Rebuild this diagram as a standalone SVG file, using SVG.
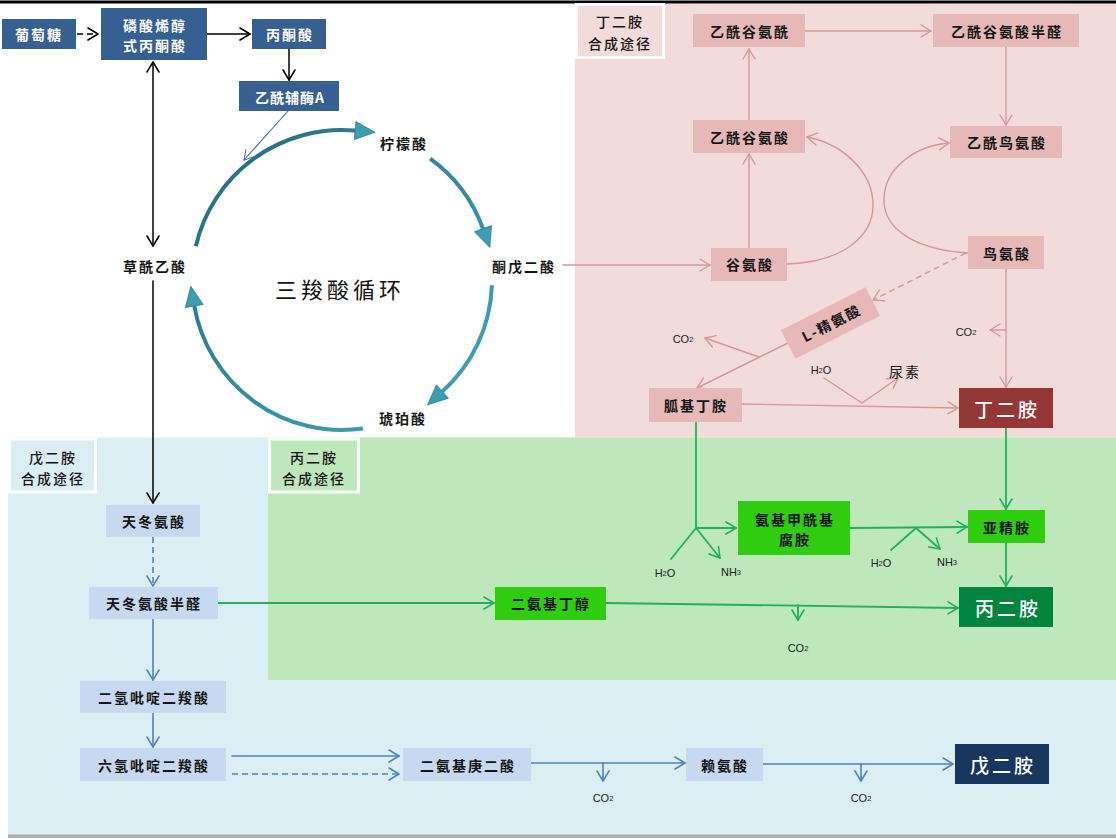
<svg xmlns="http://www.w3.org/2000/svg" width="1116" height="839" viewBox="0 0 1116 839">
  <defs>
    <style>
      .cn { font-family: "Noto Sans CJK SC", "Noto Sans", sans-serif; font-size: 14px; font-weight: 700; text-anchor: middle; dominant-baseline: central; letter-spacing: 2px; fill: #141414; }
      .wt { fill: #ffffff; }
      .big { font-size: 19px; font-weight: 500; letter-spacing: 3px; }
      .reg { font-weight: 500; }
      .chem { font-family: "Liberation Sans", Arial, sans-serif; font-size: 11px; text-anchor: middle; dominant-baseline: central; fill: #1a1a1a; }
      .sub { font-size: 7.5px; }
      .line { fill: none; stroke-linecap: round; stroke-linejoin: round; }
      .bk { stroke: #000000; stroke-width: 1.5; }
      .pk { stroke: #D99694; stroke-width: 1.4; }
      .gr { stroke: #1FB25A; stroke-width: 1.8; }
      .bl { stroke: #4F81BD; stroke-width: 1.6; }
      .nv { stroke: #4A6DB0; stroke-width: 1.1; }
      .dash { stroke-dasharray: 6 4; stroke-linecap: butt; }
      .n-dark { fill: #376092; }
      .n-pink { fill: #E6B9B8; }
      .n-green { fill: #30CC10; }
      .n-blue { fill: #C6D9F0; }
      .tab { stroke: #ffffff; stroke-width: 3; }
      .arc { fill: none; stroke: url(#tcaStroke); stroke-width: 4; }
      .tri { fill: #3C9DB2; stroke: #2C7C8C; stroke-width: 0.8; }
    </style>
    <linearGradient id="tcaStroke" gradientUnits="userSpaceOnUse" x1="200" y1="130" x2="480" y2="430">
      <stop offset="0" stop-color="#236B7A"/>
      <stop offset="1" stop-color="#45A6BC"/>
    </linearGradient>
    <marker id="ah-bk" viewBox="0 -7 12 14" refX="11" refY="0" markerWidth="12" markerHeight="14" markerUnits="userSpaceOnUse" orient="auto-start-reverse">
      <path d="M1,-6 L11,0 L1,6" fill="none" stroke="#000000" stroke-width="1.5" stroke-linecap="round" stroke-linejoin="round"/>
    </marker>
    <marker id="ah-pk" viewBox="0 -7 12 14" refX="11" refY="0" markerWidth="12" markerHeight="14" markerUnits="userSpaceOnUse" orient="auto">
      <path d="M1,-6 L11,0 L1,6" fill="none" stroke="#D99694" stroke-width="1.4" stroke-linecap="round" stroke-linejoin="round"/>
    </marker>
    <marker id="ah-gr" viewBox="0 -7 12 14" refX="11" refY="0" markerWidth="12" markerHeight="14" markerUnits="userSpaceOnUse" orient="auto">
      <path d="M1,-6 L11,0 L1,6" fill="none" stroke="#1FB25A" stroke-width="1.6" stroke-linecap="round" stroke-linejoin="round"/>
    </marker>
    <marker id="ah-bl" viewBox="0 -7 12 14" refX="11" refY="0" markerWidth="12" markerHeight="14" markerUnits="userSpaceOnUse" orient="auto">
      <path d="M1,-6 L11,0 L1,6" fill="none" stroke="#4F81BD" stroke-width="1.5" stroke-linecap="round" stroke-linejoin="round"/>
    </marker>
    <marker id="ah-nv" viewBox="0 -7 12 14" refX="11" refY="0" markerWidth="11" markerHeight="13" markerUnits="userSpaceOnUse" orient="auto">
      <path d="M1,-6 L11,0 L1,6" fill="none" stroke="#4A6DB0" stroke-width="1.1" stroke-linecap="round" stroke-linejoin="round"/>
    </marker>
  </defs>

  <!-- page -->
  <rect x="0" y="0" width="1116" height="839" fill="#ffffff"/>
  <rect x="0" y="0.5" width="1116" height="3" fill="#000000"/>

  <!-- pathway panels -->
  <g id="panels">
    <rect x="8" y="834" width="1108" height="4" fill="#ADADAD"/>
    <rect x="575" y="4" width="541" height="433.5" fill="#F2DCDB"/>
    <rect x="8" y="437.5" width="1108" height="397" fill="#DBEEF4"/>
    <rect x="268" y="437.5" width="848" height="242.5" fill="#BEE7BC"/>
  </g>

  <g id="tab-putrescine">
    <rect class="tab" x="576.5" y="4.5" width="87" height="53" fill="#F2DCDB"/>
    <text class="cn reg" x="620" y="21">丁二胺</text>
    <text class="cn reg" x="620" y="43">合成途径</text>
  </g>
  <g id="tab-cadaverine">
    <rect class="tab" x="9.5" y="439" width="86" height="53" fill="#DBEEF4"/>
    <text class="cn reg" x="53" y="457">戊二胺</text>
    <text class="cn reg" x="53" y="478">合成途径</text>
  </g>
  <g id="tab-dap">
    <rect class="tab" x="269.5" y="439" width="89" height="53" fill="#BEE7BC"/>
    <text class="cn reg" x="314" y="457">丙二胺</text>
    <text class="cn reg" x="314" y="478">合成途径</text>
  </g>

  <!-- TCA cycle -->
  <g id="tca-cycle">
    <path class="arc" d="M195.8,246.3 A150,150 0 0 1 355.1,130.6"/>
    <polygon class="tri" points="355.9,121.6 375,132.3 354.3,139.6"/>
    <path class="arc" d="M430.2,158.7 A150,150 0 0 1 483,228.7"/>
    <polygon class="tri" points="491.5,225.6 489.8,247.5 474.5,231.8"/>
    <path class="arc" d="M491.9,285.2 A150,150 0 0 1 442.4,391.5"/>
    <polygon class="tri" points="448.4,398.2 427.5,404.9 436.4,384.8"/>
    <path class="arc" d="M362.9,428.5 A150,150 0 0 1 194.3,306"/>
    <polygon class="tri" points="185.4,307.6 190.8,286.3 203.2,304.4"/>
    <text class="cn" x="340" y="288" style="font-size:22px;font-weight:400;letter-spacing:4px">三羧酸循环</text>
  </g>

  <!-- connectors -->
  <g id="connectors">
    <!-- glycolysis / TCA feed -->
    <path class="line bk dash" d="M77,34 L98,34" marker-end="url(#ah-bk)"/>
    <path class="line bk" d="M207,34 L250,34" marker-end="url(#ah-bk)"/>
    <path class="line bk" d="M289,49 L289,80" marker-end="url(#ah-bk)"/>
    <path class="line bk" d="M153,62 L153,246" marker-start="url(#ah-bk)" marker-end="url(#ah-bk)"/>
    <path class="line bk" d="M153,281 L153,503" marker-end="url(#ah-bk)"/>
    <path class="line nv" d="M288,111 L244,160" marker-end="url(#ah-nv)"/>

    <!-- putrescine route -->
    <path class="line pk" d="M805,31 L931,31" marker-end="url(#ah-pk)"/>
    <path class="line pk" d="M1006,47 L1006,125" marker-end="url(#ah-pk)"/>
    <path class="line pk" d="M749,120 L749,49" marker-end="url(#ah-pk)"/>
    <path class="line pk" d="M749,248 L749,154" marker-end="url(#ah-pk)"/>
    <path class="line pk" d="M563,265 L710,265" marker-end="url(#ah-pk)"/>
    <path class="line pk" d="M787,264 C845,262 873,235 873,205 C873,170 840,143 807,137" marker-end="url(#ah-pk)"/>
    <path class="line pk" d="M968,253 C920,250 884,232 884,200 C884,168 915,146 949,143" marker-end="url(#ah-pk)"/>
    <path class="line pk dash" d="M966,253 L873,300" marker-end="url(#ah-pk)"/>
    <path class="line pk" d="M788,343 L697,388" marker-end="url(#ah-pk)"/>
    <path class="line pk" d="M759,357 L705,338" marker-end="url(#ah-pk)"/>
    <path class="line pk" d="M742,404 L958,408" marker-end="url(#ah-pk)"/>
    <path class="line pk" d="M824,378 L862,403 L898,378" marker-end="url(#ah-pk)"/>
    <path class="line pk" d="M1006,269 L1006,387" marker-end="url(#ah-pk)"/>
    <path class="line pk" d="M1006,330 L990,330" marker-end="url(#ah-pk)"/>

    <!-- 1,3-diaminopropane route -->
    <path class="line gr" d="M696,422 L696,528 L736,528" marker-end="url(#ah-gr)"/>
    <path class="line gr" d="M671,559 L696,528"/>
    <path class="line gr" d="M696,528 L720,558" marker-end="url(#ah-gr)"/>
    <path class="line gr" d="M850,528 L967,527" marker-end="url(#ah-gr)"/>
    <path class="line gr" d="M891,550 L916,528 L940,549" marker-end="url(#ah-gr)"/>
    <path class="line gr" d="M1006,428 L1006,509" marker-end="url(#ah-gr)"/>
    <path class="line gr" d="M1006,543 L1006,586" marker-end="url(#ah-gr)"/>
    <path class="line gr" d="M218,603 L494,603" marker-end="url(#ah-gr)"/>
    <path class="line gr" d="M606,603 L958,608" marker-end="url(#ah-gr)"/>
    <path class="line gr" d="M798,605 L798,620" marker-end="url(#ah-gr)"/>

    <!-- cadaverine route -->
    <path class="line bl dash" d="M153,537 L153,586" marker-end="url(#ah-bl)"/>
    <path class="line bl" d="M153,619 L153,680" marker-end="url(#ah-bl)"/>
    <path class="line bl" d="M153,713 L153,747" marker-end="url(#ah-bl)"/>
    <path class="line bl" d="M232,756 L399,756" marker-end="url(#ah-bl)"/>
    <path class="line bl dash" d="M232,774 L399,774" marker-end="url(#ah-bl)"/>
    <path class="line bl" d="M531,763 L685,763" marker-end="url(#ah-bl)"/>
    <path class="line bl" d="M603,763 L603,781" marker-end="url(#ah-bl)"/>
    <path class="line bl" d="M763,764 L953,764" marker-end="url(#ah-bl)"/>
    <path class="line bl" d="M861,764 L861,781" marker-end="url(#ah-bl)"/>
  </g>

  <!-- side products -->
  <g id="side-products">
    <text class="chem" x="683" y="339">CO<tspan class="sub">2</tspan></text>
    <text class="chem" x="966" y="332">CO<tspan class="sub">2</tspan></text>
    <text class="chem" x="821" y="370">H<tspan class="sub">2</tspan>O</text>
    <text class="cn" x="905" y="371" style="font-weight:400">尿素</text>
    <text class="chem" x="665" y="573">H<tspan class="sub">2</tspan>O</text>
    <text class="chem" x="731" y="572">NH<tspan class="sub">3</tspan></text>
    <text class="chem" x="881" y="563">H<tspan class="sub">2</tspan>O</text>
    <text class="chem" x="947" y="562">NH<tspan class="sub">3</tspan></text>
    <text class="chem" x="798" y="648">CO<tspan class="sub">2</tspan></text>
    <text class="chem" x="603" y="798">CO<tspan class="sub">2</tspan></text>
    <text class="chem" x="861" y="798">CO<tspan class="sub">2</tspan></text>
  </g>

  <!-- central metabolism -->
  <g id="n-glucose"><rect class="n-dark" x="2" y="19" width="74" height="30"/><text class="cn wt" x="39" y="34">葡萄糖</text></g>
  <g id="n-pep"><rect class="n-dark" x="101" y="8" width="106" height="52"/><text class="cn wt" x="155" y="25">磷酸烯醇</text><text class="cn wt" x="155" y="45">式丙酮酸</text></g>
  <g id="n-pyruvate"><rect class="n-dark" x="252" y="19" width="74" height="30"/><text class="cn wt" x="290" y="34">丙酮酸</text></g>
  <g id="n-acetylcoa"><rect class="n-dark" x="239" y="81" width="100" height="30"/><text class="cn wt" x="290" y="97" style="letter-spacing:1px">乙酰辅酶A</text></g>
  <g id="n-citrate"><text class="cn" x="404" y="143">柠檬酸</text></g>
  <g id="n-akg"><text class="cn" x="524" y="266">酮戊二酸</text></g>
  <g id="n-succinate"><text class="cn" x="403" y="418">琥珀酸</text></g>
  <g id="n-oxaloacetate"><text class="cn" x="155" y="266">草酰乙酸</text></g>

  <!-- putrescine nodes -->
  <g id="n-nag-p"><rect class="n-pink" x="693" y="14" width="112" height="33"/><text class="cn" x="750" y="31">乙酰谷氨酰</text></g>
  <g id="n-nag-sa"><rect class="n-pink" x="933" y="14" width="146" height="33"/><text class="cn" x="1007" y="31">乙酰谷氨酸半醛</text></g>
  <g id="n-nag"><rect class="n-pink" x="693" y="120" width="112" height="33"/><text class="cn" x="750" y="137">乙酰谷氨酸</text></g>
  <g id="n-nao"><rect class="n-pink" x="950" y="126" width="112" height="32"/><text class="cn" x="1007" y="142">乙酰鸟氨酸</text></g>
  <g id="n-glu"><rect class="n-pink" x="711" y="248" width="76" height="33"/><text class="cn" x="750" y="264">谷氨酸</text></g>
  <g id="n-orn"><rect class="n-pink" x="968" y="236" width="76" height="33"/><text class="cn" x="1007" y="253">鸟氨酸</text></g>
  <g id="n-arg" transform="translate(830.5,323) rotate(-27)"><rect class="n-pink" x="-47.5" y="-16" width="95" height="32"/><text class="cn" x="1" y="0">L-精氨酸</text></g>
  <g id="n-agmatine"><rect class="n-pink" x="649" y="388" width="93" height="34"/><text class="cn" x="696" y="405">胍基丁胺</text></g>
  <g id="n-putrescine"><rect x="959" y="388" width="94" height="40" fill="#953735"/><text class="cn wt big" x="1007" y="408">丁二胺</text></g>

  <!-- 1,3-diaminopropane nodes -->
  <g id="n-carbamoyl"><rect class="n-green" x="738" y="501" width="112" height="54"/><text class="cn" x="795" y="519">氨基甲酰基</text><text class="cn" x="795" y="539">腐胺</text></g>
  <g id="n-spermidine"><rect class="n-green" x="968" y="510" width="77" height="33"/><text class="cn" x="1007" y="527">亚精胺</text></g>
  <g id="n-dab"><rect class="n-green" x="495" y="587" width="111" height="33"/><text class="cn" x="551" y="603">二氨基丁醇</text></g>
  <g id="n-dap"><rect x="959" y="587" width="94" height="40" fill="#00853E"/><text class="cn wt big" x="1008" y="607">丙二胺</text></g>

  <!-- cadaverine nodes -->
  <g id="n-asp"><rect class="n-blue" x="106" y="505" width="94" height="32"/><text class="cn" x="154" y="521">天冬氨酸</text></g>
  <g id="n-asa"><rect class="n-blue" x="89" y="587" width="129" height="32"/><text class="cn" x="154" y="603">天冬氨酸半醛</text></g>
  <g id="n-dhdpa"><rect class="n-blue" x="80" y="681" width="146" height="32"/><text class="cn" x="154" y="697">二氢吡啶二羧酸</text></g>
  <g id="n-thdpa"><rect class="n-blue" x="80" y="748" width="146" height="33"/><text class="cn" x="154" y="765">六氢吡啶二羧酸</text></g>
  <g id="n-dapim"><rect class="n-blue" x="403" y="748" width="128" height="33"/><text class="cn" x="468" y="765">二氨基庚二酸</text></g>
  <g id="n-lys"><rect class="n-blue" x="686" y="748" width="77" height="33"/><text class="cn" x="725" y="765">赖氨酸</text></g>
  <g id="n-cadaverine"><rect x="955" y="744" width="94" height="40" fill="#17375E"/><text class="cn wt big" x="1003" y="764">戊二胺</text></g>
</svg>
